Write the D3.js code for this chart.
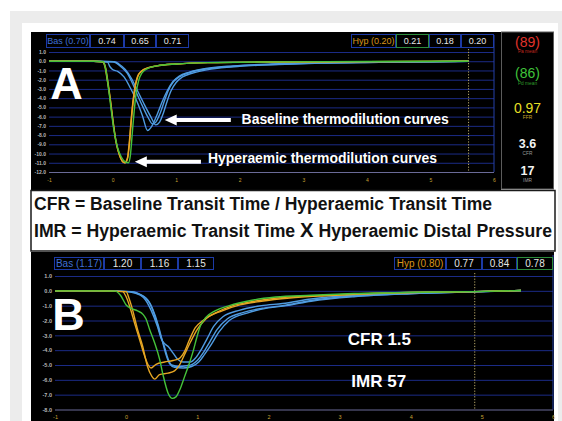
<!DOCTYPE html>
<html>
<head>
<meta charset="utf-8">
<script src="https://cdn.jsdelivr.net/npm/d3@7"></script>
<style>
  html, body { margin: 0; padding: 0; background: #fff; }
  svg { display: block; font-family: "Liberation Sans", Arial, sans-serif; }
</style>
</head>
<body>
<svg id="chart" width="562" height="421"></svg>
<script>
// ---- data ----
let xTicks = [-1, 0, 1, 2, 3, 4, 5, 6]
let yTicksA = [1, 0, -1, -2, -3, -4, -5, -6, -7, -8, -9, -10, -11, -12]
let yTicksB = [1, 0, -1, -2, -3, -4, -5, -6, -7, -8]

let basA = ["Bas (0.70)", "0.74", "0.65", "0.71"]
let hypA = ["Hyp (0.20)", "0.21", "0.18", "0.20"]
let basB = ["Bas (1.17)", "1.20", "1.16", "1.15"]
let hypB = ["Hyp (0.80)", "0.77", "0.84", "0.78"]

let sideLabels = ["(89)", "(86)", "0.97", "3.6", "17"]
let sideNames = ["Pa mean", "Pd mean", "FFR", "CFR", "IMR"]

// panel A : baseline (blue) curves
let baseA1 = [[-1,0],[-0.5,0],[-0.2,-0.02],[-0.08,-0.1],[-0.04,-0.6],[0,-0.9],[0.08,-1.1],[0.18,-1.7],[0.28,-2.9],[0.38,-4.3],[0.47,-5.9],[0.55,-7.5],[0.62,-7.0],[0.7,-5.8],[0.78,-4.4],[0.86,-3.2],[0.95,-2.2],[1.05,-1.6],[1.2,-1.2],[1.5,-0.75],[1.9,-0.5],[2.5,-0.3],[3.2,-0.18],[4.2,-0.1],[5.0,-0.05],[5.6,0]]
let baseA2 = [[-1,0],[-0.3,0],[0,-0.05],[0.06,-0.2],[0.15,-0.7],[0.23,-1.3],[0.32,-2.5],[0.4,-3.8],[0.48,-5.0],[0.56,-6.1],[0.63,-6.8],[0.68,-6.6],[0.75,-5.6],[0.82,-4.2],[0.88,-3.1],[0.96,-2.2],[1.05,-1.7],[1.2,-1.25],[1.5,-0.8],[1.9,-0.55],[2.5,-0.35],[3.2,-0.2],[4.2,-0.12],[5.0,-0.06],[5.6,0]]
let baseA3 = [[-1,0],[-0.3,0],[0.03,-0.05],[0.1,-0.3],[0.2,-0.9],[0.3,-1.9],[0.4,-3.3],[0.5,-4.7],[0.6,-6.0],[0.68,-6.9],[0.74,-6.6],[0.8,-5.6],[0.86,-4.3],[0.92,-3.2],[1.0,-2.3],[1.1,-1.7],[1.25,-1.3],[1.55,-0.85],[2.0,-0.55],[2.6,-0.35],[3.3,-0.2],[4.2,-0.12],[5.0,-0.06],[5.6,0]]
// panel A : hyperaemic curves
let hypA1 = [[-1,0],[-0.3,0],[-0.16,-0.05],[-0.12,-0.6],[-0.08,-2.2],[-0.04,-4.0],[0,-6.2],[0.05,-8.6],[0.1,-10.0],[0.15,-10.8],[0.19,-11.0],[0.23,-10.6],[0.26,-9.0],[0.29,-6.5],[0.32,-4.4],[0.35,-2.9],[0.39,-1.7],[0.45,-1.1],[0.55,-0.75],[0.7,-0.5],[1.0,-0.3],[1.5,-0.15],[2.5,-0.08],[4.0,-0.04],[5.6,0]]
let hypA2 = [[-1,0],[-0.3,0],[-0.15,-0.05],[-0.11,-0.7],[-0.07,-2.4],[-0.03,-4.4],[0.01,-6.6],[0.06,-8.9],[0.11,-10.2],[0.16,-10.9],[0.2,-11.0],[0.24,-10.4],[0.27,-8.6],[0.3,-6.0],[0.33,-4.0],[0.36,-2.6],[0.4,-1.6],[0.46,-1.05],[0.56,-0.7],[0.7,-0.5],[1.0,-0.3],[1.5,-0.15],[2.5,-0.08],[4.0,-0.04],[5.6,0]]
let hypA3 = [[-1,0],[-0.3,0],[-0.15,-0.05],[-0.11,-0.8],[-0.07,-2.6],[-0.03,-4.8],[0.02,-7.4],[0.08,-9.4],[0.14,-10.4],[0.2,-10.9],[0.25,-11.0],[0.28,-10.2],[0.31,-7.8],[0.34,-5.4],[0.37,-3.5],[0.41,-2.1],[0.46,-1.3],[0.55,-0.8],[0.7,-0.5],[1.0,-0.3],[1.5,-0.15],[2.5,-0.07],[4.0,-0.03],[5.6,0]]

// panel B : baseline (blue) curves
let baseB1 = [[-1,0],[-0.3,0],[0,-0.05],[0.12,-0.15],[0.2,-0.3],[0.27,-0.6],[0.35,-1.3],[0.44,-2.4],[0.5,-3.3],[0.55,-3.6],[0.6,-3.8],[0.66,-4.2],[0.72,-4.6],[0.8,-4.8],[0.9,-4.8],[0.98,-4.5],[1.05,-4.0],[1.14,-3.2],[1.23,-2.4],[1.36,-1.75],[1.6,-1.3],[1.9,-1.0],[2.2,-0.85],[2.6,-0.55],[3.2,-0.3],[4.0,-0.15],[4.9,-0.05],[5.55,0.02]]
let baseB2 = [[-1,0],[-0.3,0],[0.05,-0.05],[0.2,-0.25],[0.28,-0.5],[0.34,-0.9],[0.42,-1.95],[0.49,-3.1],[0.54,-3.8],[0.59,-4.6],[0.64,-5.0],[0.74,-5.1],[0.85,-5.05],[0.93,-4.95],[1.0,-4.7],[1.08,-4.2],[1.18,-3.4],[1.28,-2.6],[1.42,-1.9],[1.65,-1.45],[1.95,-1.15],[2.2,-1.0],[2.6,-0.65],[3.2,-0.35],[4.0,-0.18],[4.9,-0.06],[5.55,0.02]]
let baseB3 = [[-1,0],[-0.3,0],[0.08,-0.05],[0.22,-0.3],[0.3,-0.6],[0.37,-1.2],[0.45,-2.3],[0.51,-3.4],[0.56,-4.3],[0.61,-4.9],[0.68,-5.15],[0.8,-5.2],[0.92,-5.1],[1.02,-4.8],[1.1,-4.3],[1.2,-3.6],[1.3,-2.8],[1.45,-2.0],[1.7,-1.5],[2.0,-1.15],[2.25,-1.0],[2.6,-0.7],[3.2,-0.4],[4.0,-0.2],[4.9,-0.07],[5.55,0.02]]
// panel B : hyperaemic curves
let hypB1 = [[-1,0],[-0.4,0],[-0.05,-0.05],[0,-0.4],[0.05,-1.05],[0.12,-2.2],[0.19,-3.3],[0.26,-4.4],[0.31,-5.0],[0.35,-5.2],[0.42,-4.95],[0.54,-4.8],[0.66,-4.7],[0.75,-4.55],[0.82,-4.1],[0.89,-3.3],[0.97,-2.5],[1.08,-2.0],[1.25,-1.5],[1.5,-1.0],[1.8,-0.7],[2.2,-0.45],[2.7,-0.32],[3.3,-0.2],[4.1,-0.1],[4.9,-0.05],[5.55,0.02]]
let hypB2 = [[-1,0],[-0.4,0],[0,-0.05],[0.04,-0.5],[0.08,-1.1],[0.16,-2.6],[0.23,-3.7],[0.3,-5.1],[0.36,-5.75],[0.4,-5.95],[0.47,-5.65],[0.59,-5.55],[0.68,-5.4],[0.75,-5.0],[0.82,-4.3],[0.91,-3.4],[1.0,-2.6],[1.12,-1.9],[1.35,-1.35],[1.6,-0.95],[1.9,-0.7],[2.3,-0.48],[2.8,-0.33],[3.4,-0.2],[4.2,-0.1],[4.9,-0.05],[5.55,0.02]]
let hypB3 = [[-1,0],[-0.4,0],[-0.15,-0.02],[-0.08,-0.3],[0,-0.95],[0.08,-1.2],[0.16,-1.35],[0.24,-1.6],[0.28,-1.9],[0.33,-2.6],[0.4,-3.5],[0.47,-4.6],[0.52,-5.7],[0.59,-6.9],[0.65,-7.25],[0.7,-7.15],[0.76,-6.6],[0.82,-5.8],[0.88,-5.0],[0.94,-4.1],[0.99,-3.2],[1.04,-2.4],[1.12,-1.8],[1.25,-1.35],[1.45,-1.0],[1.75,-0.65],[2.1,-0.42],[2.6,-0.3],[3.2,-0.18],[4.0,-0.1],[4.9,-0.05],[5.55,0.02]]

let blue = "#4f9be0", yellow = "#e7a623", green = "#45c23a"
let navy = "#1b2b86"

// small helper so attributes can be set from an object
d3.selection.prototype.attrs = function(a) {
  for (let k in a) this.attr(k, a[k])
  return this
}

let svg = d3.select("#chart")

// page frame
svg.append("rect").attrs({x: 10, y: 11, width: 552, height: 410, fill: "#ececec"})
svg.append("rect").attrs({x: 22, y: 23, width: 536, height: 398, fill: "#fff"})

// ---- panels ----
function drawPanel(opt) {
  let g = svg.append("g")
  g.append("rect").attrs({x: opt.left, y: opt.top, width: opt.w, height: opt.h, fill: "#000"})
  let x = opt.x, y = opt.y
  let x0 = x.range()[0], x1 = x.range()[1]

  // grid + y labels
  let yAxis = g.append("g")
    .attr("transform", `translate(${x0},0)`)
    .call(d3.axisLeft(y).tickValues(opt.yTicks).tickSize(-(x1 - x0)).tickPadding(3)
      .tickFormat(d => d.toFixed(1)))
  yAxis.select(".domain").remove()
  yAxis.selectAll("line").attr("stroke", navy).attr("stroke-width", 1)
  yAxis.selectAll(".tick:last-of-type line").attr("stroke", "#6a6a98")
  yAxis.selectAll("text").attrs({fill: "#b8b8b8", "font-size": opt.tickFont, "font-weight": "bold"})

  // right border
  g.append("line").attrs({x1: x1, x2: x1, y1: opt.top + 3, y2: y.range()[1], stroke: "#2440a8", "stroke-width": 1})

  // x labels
  let xAxis = g.append("g")
    .attr("transform", `translate(0,${y.range()[1]})`)
    .call(d3.axisBottom(x).tickValues(xTicks).tickSize(0).tickPadding(opt.xPad).tickFormat(d => d))
  xAxis.select(".domain").remove()
  xAxis.selectAll("text").attrs({fill: "#c9a235", "font-size": opt.tickFont})

  // dotted marker
  g.append("line").attrs({x1: x(opt.marker), x2: x(opt.marker), y1: y.range()[0] - 3, y2: y.range()[1],
    stroke: "#b8a868", "stroke-width": 1, "stroke-dasharray": "1.2,1.6"})

  // header boxes
  function boxes(labels, bx, widths, color, greenIdx) {
    let cx = bx
    labels.forEach((t, i) => {
      let w = widths[i]
      g.append("rect").attrs({x: cx + 0.5, y: opt.hy + 0.5, width: w - 1, height: opt.hh,
        fill: "none", stroke: i == greenIdx ? "#2c8c3c" : "#1c3aa6", "stroke-width": 1})
      g.append("text").text(t).attrs({x: cx + w / 2, y: opt.hy + opt.hh / 2 + 0.5, "text-anchor": "middle",
        "dominant-baseline": "central", "font-size": opt.hFont, fill: i == 0 ? color : "#e6e6e6"})
      cx += w
    })
  }
  boxes(opt.bas, opt.basX, opt.basW, "#3f6fd6", -1)
  boxes(opt.hyp, opt.hypX, opt.hypW, "#d9961c", opt.hypGreen)

  // curves
  let line = d3.line().x(d => x(d[0])).y(d => y(d[1])).curve(d3.curveMonotoneX)
  opt.curves.forEach(c => {
    g.append("path").datum(c[0]).attrs({d: line, fill: "none", stroke: c[1], "stroke-width": 1.4,
      "stroke-linejoin": "round"})
  })
  return g
}

let xA = d3.scaleLinear().domain([-1, 6]).range([49, 494])
let yA = d3.scaleLinear().domain([1, -12]).range([52, 172])
let xB = d3.scaleLinear().domain([-1, 6]).range([55, 553])
let yB = d3.scaleLinear().domain([1, -8]).range([276, 409.5])

let gA = drawPanel({
  left: 31, top: 32, w: 470, h: 158, x: xA, y: yA, yTicks: yTicksA, tickFont: 5, xPad: 6,
  marker: 5.6, hy: 34, hh: 13, hFont: 9,
  bas: basA, basX: 46, basW: [44, 34, 32, 33],
  hyp: hypA, hypX: 351, hypW: [45, 33, 32, 33], hypGreen: 1,
  curves: [[baseA1, blue], [baseA2, blue], [baseA3, blue], [hypA1, yellow], [hypA2, yellow], [hypA3, green]]
})

let gB = drawPanel({
  left: 31, top: 252, w: 523, h: 169, x: xB, y: yB, yTicks: yTicksB, tickFont: 5.5, xPad: 5.5,
  marker: 4.9, hy: 257, hh: 12, hFont: 10,
  bas: basB, basX: 54, basW: [50, 37, 37, 36],
  hyp: hypB, hypX: 394, hypW: [52, 36, 35, 36], hypGreen: 3,
  curves: [[baseB1, blue], [baseB2, blue], [baseB3, blue], [hypB1, yellow], [hypB2, yellow], [hypB3, green]]
})

// side panel of A
svg.append("rect").attrs({x: 501.5, y: 32, width: 52, height: 157, fill: "#000", stroke: "#5c5c5c", "stroke-width": 1})
let sideColors = ["#e1332b", "#3fc43a", "#e6df25", "#f2f2f2", "#f2f2f2"]
let sideSub = ["#c2281f", "#2f9a2a", "#c9a52a", "#9a9a9a", "#9a9a9a"]
let sideY = [46.5, 78, 112.5, 148, 175]
sideLabels.forEach((t, i) => {
  svg.append("text").text(t).attrs({x: 527.5, y: sideY[i], "text-anchor": "middle",
    "font-size": i < 3 ? 14 : 12.5, "font-weight": i < 3 ? "normal" : "bold", fill: sideColors[i]})
  svg.append("text").text(sideNames[i]).attrs({x: 527.5, y: sideY[i] + 6.5, "text-anchor": "middle",
    "font-size": 4.8, fill: sideSub[i]})
})

// big panel letters
gA.append("text").text("A").attrs({x: xA(-0.98), y: yA(-4.13), "font-size": 45, "font-weight": "bold", fill: "#fff"})
gB.append("text").text("B").attrs({x: xB(-1.04), y: yB(-2.64), "font-size": 45, "font-weight": "bold", fill: "#fff"})

// arrows + notes in A
function arrow(g, x, y, t0, t1, v) {
  let xt = x(t0), xe = x(t1), yy = y(v)
  g.append("path").attr("d", `M${xt},${yy} L${xt + 12},${yy - 5.5} L${xt + 12},${yy - 2} L${xe},${yy - 2} L${xe},${yy + 2} L${xt + 12},${yy + 2} L${xt + 12},${yy + 5.5} Z`)
    .attr("fill", "#fff")
}
arrow(gA, xA, yA, 0.82, 1.86, -6.36)
arrow(gA, xA, yA, 0.35, 1.39, -10.9)
gA.append("text").text("Baseline thermodilution curves").attrs({x: xA(2.03), y: yA(-6.85), "font-size": 14,
  "font-weight": "bold", fill: "#fff", textLength: 207, lengthAdjust: "spacingAndGlyphs"})
gA.append("text").text("Hyperaemic thermodilution curves").attrs({x: xA(1.5), y: yA(-11.05), "font-size": 14,
  "font-weight": "bold", fill: "#fff", textLength: 229, lengthAdjust: "spacingAndGlyphs"})

// notes in B
gB.append("text").text("CFR 1.5").attrs({x: xB(3.56), y: yB(-3.65), "text-anchor": "middle", "font-size": 17,
  "font-weight": "bold", fill: "#fff"})
gB.append("text").text("IMR 57").attrs({x: xB(3.55), y: yB(-6.47), "text-anchor": "middle", "font-size": 17,
  "font-weight": "bold", fill: "#fff"})

// formula box
svg.append("rect").attrs({x: 31, y: 190.5, width: 524, height: 60.5, fill: "#fff", stroke: "#1a1a1a", "stroke-width": 1.5})
svg.append("text").text("CFR = Baseline Transit Time / Hyperaemic Transit Time").attrs({x: 34, y: 209.5,
  "font-size": 17.5, "font-weight": "bold", fill: "#111", textLength: 458, lengthAdjust: "spacingAndGlyphs"})
let l2 = svg.append("text").attrs({x: 34, y: 237, "font-size": 17.5, "font-weight": "bold", fill: "#111",
  textLength: 518, lengthAdjust: "spacingAndGlyphs"})
l2.append("tspan").text("IMR = Hyperaemic Transit Time ")
l2.append("tspan").text("X").attr("font-size", 20)
l2.append("tspan").text(" Hyperaemic Distal Pressure")
</script>
</body>
</html>
